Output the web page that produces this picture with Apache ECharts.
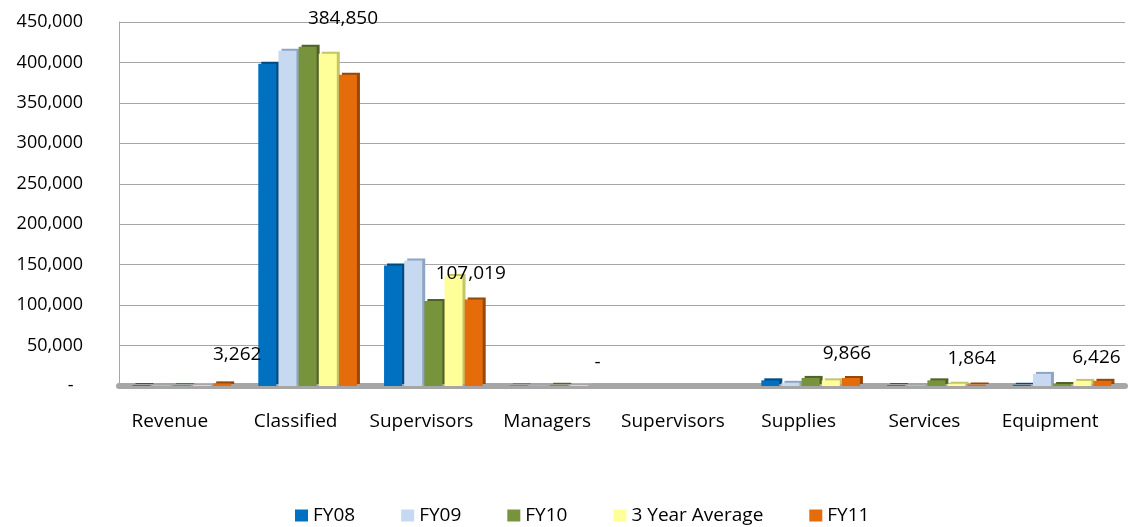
<!DOCTYPE html>
<html>
<head>
<meta charset="utf-8">
<title>Budget by category</title>
<script src="https://cdn.jsdelivr.net/npm/echarts@6/dist/echarts.min.js"></script>
<style>
    html, body { margin: 0; padding: 0; background: #fff; }
    #chart { width: 1129px; height: 527px; }
</style>
</head>
<body>
<div id="chart"></div>
<script>
// categories along the x axis
var categories = ['Revenue', 'Classified', 'Supervisors', 'Managers', 'Supervisors', 'Supplies', 'Services', 'Equipment'];
var seriesNames = ['FY08', 'FY09', 'FY10', '3 Year Average', 'FY11'];

// values (second Supervisors group is empty)
var fy08 = [1000, 398400, 149000, 500, null, 7000, 1000, 1500];
var fy09 = [500, 414400, 155000, 300, null, 4000, 500, 15000];
var fy10 = [1000, 419300, 105000, 1500, null, 10000, 7000, 2500];
var avg3 = [800, 410700, 136000, 800, null, 7000, 2800, 6300];
var fy11 = [3262, 384850, 107019, 0, null, 9866, 1864, 6426];

var yTicks = [0, 50000, 100000, 150000, 200000, 250000, 300000, 350000, 400000, 450000];

var colors = ['#0070C0', '#C6D9F1', '#77933C', '#FFFF99', '#E46C0A'];
var sideColors = ['#004A80', '#8EA5C2', '#4F6228', '#C4C46A', '#974706'];

// nudges for the FY11 value labels, same order as categories
var labelNudge = [[15, -9], [-5, -37], [-3, -6], [-2, -4], [0, 0], [-4, -5], [-5, -6], [-6, -4]];

var fmt = function (v) {
    if (v === 0) return '-';
    return v.toString().replace(/\B(?=(\d{3})+(?!\d))/g, ',');
};

var myChart = echarts.init(document.getElementById('chart'));

var allData = [fy08, fy09, fy10, avg3, fy11];
var series = [];
for (var i = 0; i < allData.length; i++) {
    series.push({
        name: seriesNames[i],
        type: 'bar',
        barWidth: 18,
        barGap: '12%',
        data: allData[i],
        itemStyle: {
            color: colors[i],
            shadowColor: sideColors[i],
            shadowOffsetX: 3,
            shadowOffsetY: -2,
            shadowBlur: 0
        }
    });
}
// only FY11 gets data labels
series[4].label = {
    show: true,
    position: 'top',
    distance: 10,
    fontFamily: 'Open Sans',
    fontSize: 19,
    color: '#000',
    formatter: function (p) { return fmt(p.value); }
};
series[4].data = fy11.map(function (v, idx) {
    return { value: v, label: { offset: labelNudge[idx] } };
});

var option = {
    animation: false,
    textStyle: { fontFamily: 'Open Sans' },
    grid: { left: 119, right: 4, top: 22, bottom: 141 },
    legend: {
        data: seriesNames,
        left: 290,
        top: 501,
        itemWidth: 13,
        itemHeight: 12,
        itemGap: 46,
        icon: 'rect',
        textStyle: { fontFamily: 'Open Sans', fontSize: 19, color: '#000' }
    },
    xAxis: {
        type: 'category',
        data: categories,
        axisTick: { show: false },
        axisLine: { lineStyle: { color: '#A6A6A6', width: 6 } },
        axisLabel: { margin: 26, fontSize: 19, color: '#000', interval: 0, padding: [0, 24, 0, 0] }
    },
    yAxis: {
        type: 'value',
        min: 0,
        max: 450000,
        interval: 50000,
        axisLine: { show: true, lineStyle: { color: '#A6A6A6' } },
        axisTick: { show: false },
        splitLine: { lineStyle: { color: '#A6A6A6' } },
        axisLabel: {
            margin: 36,
            fontSize: 18,
            color: '#000',
            formatter: function (v) {
                if (yTicks.indexOf(v) < 0) return '';
                return v === 0 ? '-  ' : fmt(v);
            }
        }
    },
    series: series
};

myChart.setOption(option);
</script>
</body>
</html>
